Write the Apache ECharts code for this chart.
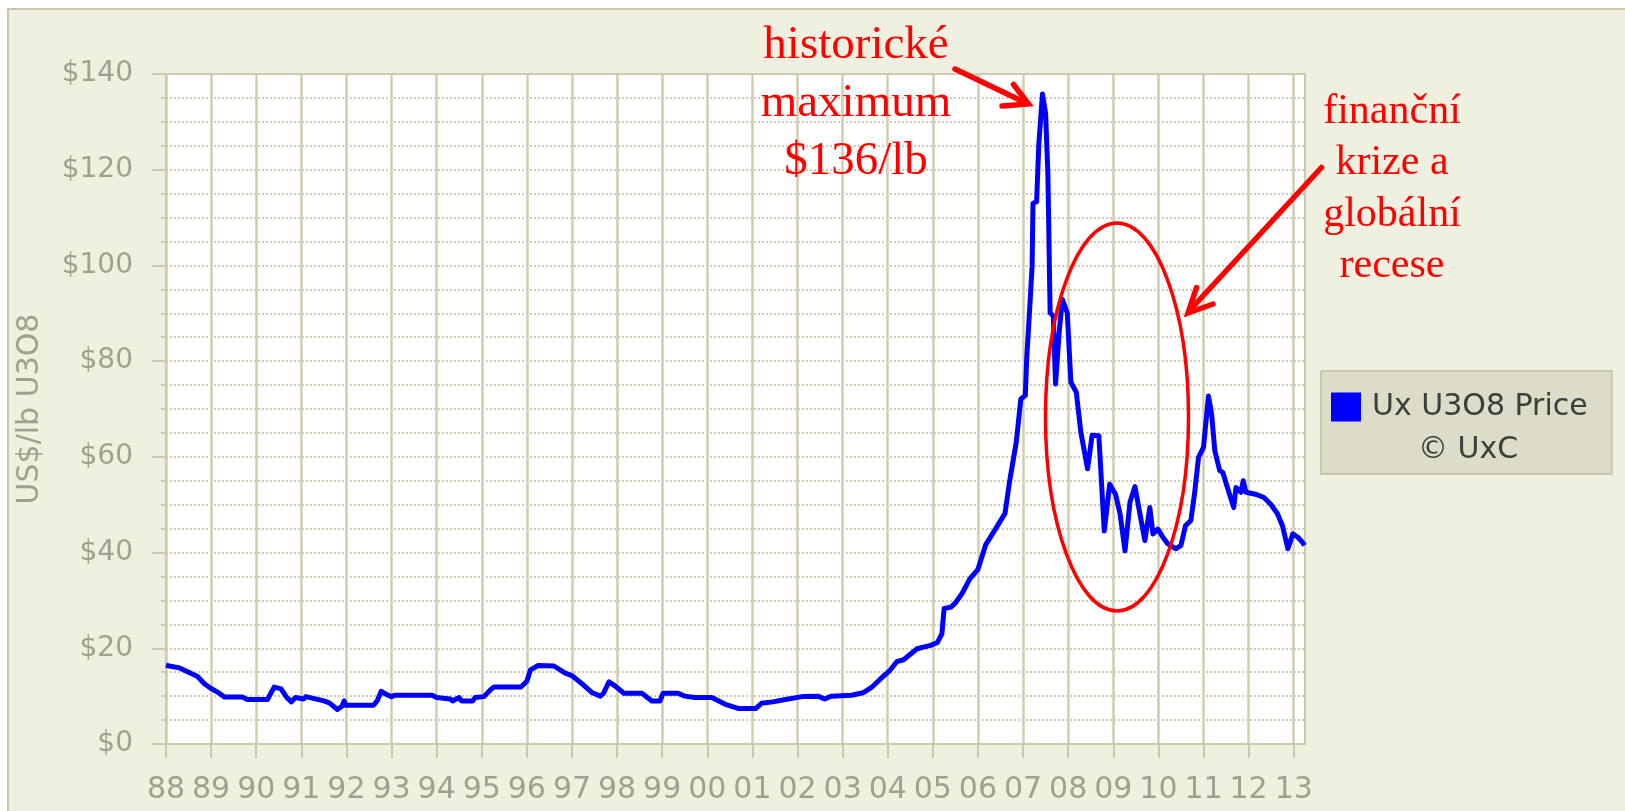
<!DOCTYPE html>
<html>
<head>
<meta charset="utf-8">
<script src="https://cdn.jsdelivr.net/npm/echarts@6/dist/echarts.min.js"></script>
<style>
  html, body { margin: 0; padding: 0; background: #ffffff; }
  #panel { position: absolute; left: 7px; top: 8px; right: 0; bottom: 0;
           background: #f0f0e0; border-left: 2px solid #c9c7ae; border-top: 2px solid #c9c7ae; }
  #chart { position: absolute; left: 0; top: 0; width: 1625px; height: 811px; }
</style>
</head>
<body>
<div id="panel"></div>
<div id="chart"></div>
<script>
// cena uranu (Ux U3O8): rok (zlomek roku) + cena v US$/lb
const years = [
  1988.00, 1988.07, 1988.30, 1988.50, 1988.70, 1988.85, 1989.00, 1989.15, 1989.30, 1989.70,
  1989.80, 1990.25, 1990.40, 1990.55, 1990.68, 1990.78, 1990.87, 1991.05, 1991.10, 1991.50,
  1991.62, 1991.80, 1991.90, 1991.95, 1991.98, 1992.60, 1992.68, 1992.77, 1992.90, 1993.00,
  1993.07, 1993.90, 1994.00, 1994.30, 1994.35, 1994.50, 1994.55, 1994.80, 1994.85, 1995.05,
  1995.20, 1995.27, 1995.87, 1996.00, 1996.08, 1996.25, 1996.60, 1996.85, 1997.00, 1997.22,
  1997.45, 1997.63, 1997.70, 1997.82, 1997.96, 1998.15, 1998.55, 1998.77, 1998.95, 1999.02,
  1999.35, 1999.50, 1999.72, 2000.10, 2000.40, 2000.70, 2001.07, 2001.20, 2001.45, 2001.73,
  2002.10, 2002.45, 2002.60, 2002.75, 2003.20, 2003.45, 2003.65, 2003.85, 2004.05, 2004.20,
  2004.35, 2004.65, 2004.95, 2005.10, 2005.20, 2005.25, 2005.40, 2005.50, 2005.65, 2005.82,
  2006.00, 2006.17, 2006.40, 2006.60, 2006.70, 2006.85, 2006.95, 2007.05, 2007.08, 2007.15,
  2007.20, 2007.22, 2007.30, 2007.35, 2007.43, 2007.50, 2007.55, 2007.60, 2007.67, 2007.72,
  2007.80, 2007.87, 2007.98, 2008.06, 2008.18, 2008.28, 2008.43, 2008.53, 2008.68, 2008.80,
  2008.92, 2009.05, 2009.15, 2009.26, 2009.37, 2009.48, 2009.59, 2009.70, 2009.81, 2009.88,
  2009.99, 2010.10, 2010.21, 2010.39, 2010.50, 2010.60, 2010.72, 2010.80, 2010.89, 2011.00,
  2011.11, 2011.18, 2011.25, 2011.36, 2011.43, 2011.54, 2011.67, 2011.72, 2011.83, 2011.88,
  2011.94, 2012.15, 2012.34, 2012.49, 2012.64, 2012.75, 2012.87, 2012.98, 2013.09, 2013.19,
  2013.24
]
const prices = [
  16.5, 16.3, 15.9, 15.0, 14.1, 12.6, 11.6, 10.8, 9.8, 9.8,
  9.3, 9.3, 11.9, 11.5, 9.7, 8.8, 9.7, 9.4, 9.9, 9.0,
  8.6, 7.2, 7.9, 9.0, 8.1, 8.1, 9.0, 11.0, 10.3, 9.9,
  10.2, 10.2, 9.7, 9.4, 9.0, 9.7, 9.0, 9.0, 9.7, 9.9,
  11.4, 11.9, 11.9, 13.1, 15.5, 16.4, 16.3, 14.8, 14.3, 12.6,
  10.7, 10.0, 10.6, 13.0, 12.1, 10.6, 10.6, 9.0, 9.0, 10.6,
  10.6, 10.0, 9.7, 9.7, 8.3, 7.4, 7.4, 8.5, 8.8, 9.3,
  9.9, 10.0, 9.4, 10.0, 10.2, 10.7, 11.9, 13.7, 15.4, 17.2,
  17.6, 19.9, 20.6, 21.2, 23.0, 28.3, 28.6, 29.5, 31.5, 34.5,
  36.5, 41.6, 45.1, 48.2, 54.8, 63.1, 72.1, 72.8, 80.4, 91.5,
  99.8, 113.0, 113.3, 125.5, 135.8, 131.7, 119.2, 90.1, 89.4, 75.2,
  86.0, 92.9, 90.1, 75.6, 73.5, 65.2, 57.5, 64.5, 64.4, 44.5,
  54.3, 52.2, 48.1, 40.4, 50.5, 53.8, 48.1, 42.5, 49.4, 43.9,
  44.9, 43.2, 41.8, 40.8, 41.5, 45.6, 46.7, 52.2, 59.9, 62.0,
  72.7, 68.9, 61.3, 57.1, 56.7, 53.3, 49.4, 53.6, 52.6, 55.0,
  52.6, 52.2, 51.5, 50.1, 48.1, 45.6, 40.8, 43.9, 43.2, 42.2,
  41.5
]
// popisky osy x (roky)
const yearTicks = [1988, 1989, 1990, 1991, 1992, 1993, 1994, 1995, 1996, 1997, 1998, 1999, 2000,
  2001, 2002, 2003, 2004, 2005, 2006, 2007, 2008, 2009, 2010, 2011, 2012, 2013]
const seriesName = 'Ux U3O8 Price'

const gridLineColor = '#d1cdb1'
const dotColor = '#d0cdb5'
const labelColor = '#a2a18c'

const chart = echarts.init(document.getElementById('chart'), null, { renderer: 'canvas' })

let pricePoints = []
for (let i = 0; i < years.length; i++) {
  pricePoints.push([years[i], prices[i]])
}

let option = {
  animation: false,
  grid: {
    show: true,
    left: 166,
    top: 74,
    width: 1139,
    height: 670,
    backgroundColor: '#ffffff',
    borderColor: '#ccc9ad',
    borderWidth: 2
  },
  legend: {
    data: [seriesName],
    left: 1321,
    top: 371,
    orient: 'vertical',
    icon: 'rect',
    itemWidth: 30,
    itemHeight: 29,
    padding: [21, 24, 52, 10],
    backgroundColor: '#dcdcc8',
    borderColor: '#c9c7ae',
    borderWidth: 2,
    selectedMode: false,
    textStyle: {
      fontFamily: 'DejaVu Sans',
      fontSize: 30,
      color: '#3e3e3a',
      padding: [0, 0, 0, 6]
    }
  },
  xAxis: {
    type: 'value',
    min: 1988,
    max: 2013.25,
    interval: 1,
    axisLine: { show: true, lineStyle: { color: '#ccc9ad', width: 2 } },
    axisTick: {
      show: true,
      length: 14,
      customValues: yearTicks,
      lineStyle: { color: '#ccc9ad', width: 2 }
    },
    axisLabel: {
      customValues: yearTicks,
      margin: 31,
      fontFamily: 'DejaVu Sans',
      fontSize: 30,
      color: labelColor,
      formatter: function (v) {
        return Number.isInteger(v) ? String(v).slice(2) : ''
      }
    },
    splitLine: { show: true, lineStyle: { color: gridLineColor, width: 2.5 } }
  },
  yAxis: {
    type: 'value',
    min: 0,
    max: 140,
    interval: 20,
    name: 'US$/lb U3O8',
    nameLocation: 'middle',
    nameGap: 121,
    nameRotate: 90,
    nameTextStyle: { fontFamily: 'DejaVu Sans', fontSize: 30, color: labelColor },
    axisLine: { show: true, lineStyle: { color: '#ccc9ad', width: 2 } },
    axisTick: { show: true, length: 14, lineStyle: { color: '#ccc9ad', width: 2 } },
    minorTick: { show: true, splitNumber: 4, length: 5, lineStyle: { color: '#ccc9ad', width: 2 } },
    axisLabel: {
      margin: 33,
      fontFamily: 'DejaVu Sans',
      fontSize: 28,
      color: labelColor,
      formatter: function (v) { return '$' + v }
    },
    splitLine: { show: true, lineStyle: { color: dotColor, width: 2, type: [2, 2] } },
    minorSplitLine: { show: true, lineStyle: { color: dotColor, width: 2, type: [2, 2] } }
  },
  series: [{
    name: seriesName,
    type: 'line',
    data: pricePoints,
    showSymbol: false,
    symbol: 'none',
    color: '#0000ff',
    lineStyle: { color: '#0000ff', width: 5, join: 'round' },
    z: 5
  }],
  graphic: [
    // druhý řádek legendy
    {
      type: 'text', z: 20,
      style: { text: '© UxC', x: 1468, y: 450, align: 'center', verticalAlign: 'middle',
        font: '30px "DejaVu Sans"', fill: '#3e3e3a' }
    },
    // anotace - historické maximum
    {
      type: 'text', z: 20,
      style: { text: 'historické\nmaximum\n$136/lb', x: 856, y: 17, align: 'center', verticalAlign: 'top',
        font: '47px "Liberation Serif"', lineHeight: 58, fill: '#ff0000' }
    },
    {
      type: 'polyline', z: 20,
      shape: { points: [[955, 69], [1026, 103]] },
      style: { stroke: '#ff0000', lineWidth: 5.5, lineCap: 'round', fill: null }
    },
    {
      type: 'polyline', z: 20,
      shape: { points: [[1013.5, 84.5], [1028.5, 104], [1002, 106]] },
      style: { stroke: '#ff0000', lineWidth: 5.5, lineCap: 'round', lineJoin: 'miter', fill: null }
    },
    // anotace - finanční krize
    {
      type: 'text', z: 20,
      style: { text: 'finanční\nkrize a\nglobální\nrecese', x: 1392, y: 86, align: 'center', verticalAlign: 'top',
        font: '42px "Liberation Serif"', lineHeight: 51.5, fill: '#ff0000' }
    },
    {
      type: 'polyline', z: 20,
      shape: { points: [[1321.5, 167.5], [1190, 310]] },
      style: { stroke: '#ff0000', lineWidth: 5.5, lineCap: 'round', fill: null }
    },
    {
      type: 'polyline', z: 20,
      shape: { points: [[1196.5, 287.5], [1188, 313], [1213, 304]] },
      style: { stroke: '#ff0000', lineWidth: 5.5, lineCap: 'round', lineJoin: 'miter', fill: null }
    },
    {
      type: 'ellipse', z: 20,
      shape: { cx: 1117, cy: 417, rx: 71.5, ry: 194 },
      style: { stroke: '#ff0000', lineWidth: 3.5, fill: null }
    }
  ]
}

chart.setOption(option)
</script>
</body>
</html>
